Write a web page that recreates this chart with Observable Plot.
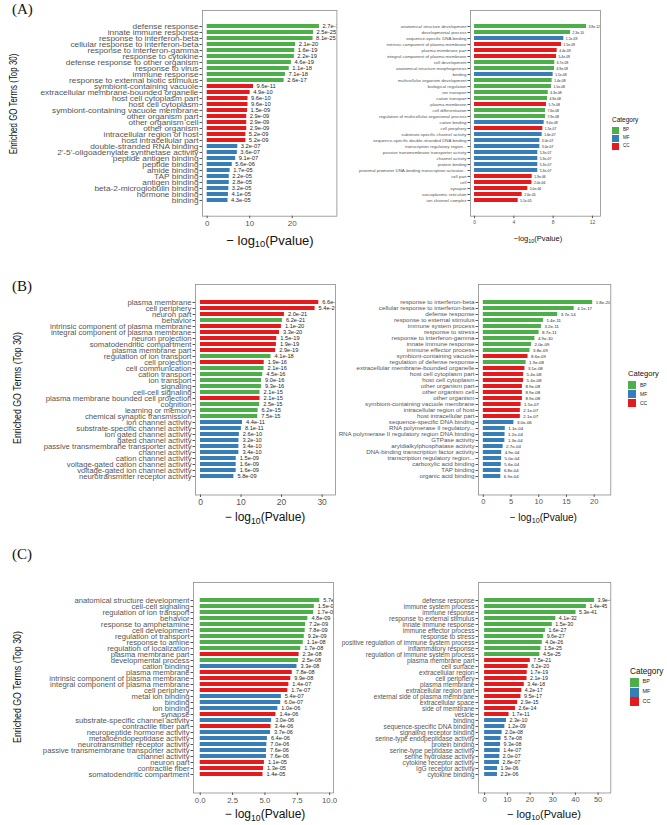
<!DOCTYPE html>
<html><head><meta charset="utf-8">
<script src="https://cdn.jsdelivr.net/npm/d3@7"></script>
<script src="https://cdn.jsdelivr.net/npm/@observablehq/plot@0.6"></script>
<style>
body{margin:0;background:#fff;}
#root{position:relative;width:667px;height:825px;overflow:hidden;font-family:"Liberation Sans",Arial,sans-serif;background:#fff;}
.abs{position:absolute;white-space:nowrap;line-height:1;}
</style></head><body><div id="root"></div>
<script>
// ---------------- DATA ----------------
const categories = ["BP", "MF", "CC"];
const categoryColors = ["#4DAF4A", "#377EB8", "#E41A1C"];

const aLeftTerms = ["defense response","innate immune response","response to interferon-beta","cellular response to interferon-beta","response to interferon-gamma","response to cytokine","defense response to other organism","response to virus","immune response","response to external biotic stimulus","symbiont-containing vacuole","extracellular membrane-bounded organelle","host cell cytoplasm part","host cell cytoplasm","symbiont-containing vacuole membrane","other organism part","other organism cell","other organism","intracellular region of host","host intracellular part","double-stranded RNA binding","2'-5'-oligoadenylate synthetase activity","peptide antigen binding","peptide binding","amide binding","TAP binding","antigen binding","beta-2-microglobulin binding","hormone binding","binding"];
const aLeftCats = ["BP","BP","BP","BP","BP","BP","BP","BP","BP","BP","CC","CC","CC","CC","CC","CC","CC","CC","CC","CC","MF","MF","MF","MF","MF","MF","MF","MF","MF","MF"];
const aLeftVals = [26.4,25.0,24.9,20.8,20.6,20.5,19.8,19.3,18.4,18.1,10.9,10.1,9.6,9.6,9.5,9.3,9.3,9.3,9.1,9.1,7.2,7.1,6.7,5.9,5.4,5.2,5.2,5.1,5.0,4.9];
const aLeftP = ["2.7e-27","2.5e-25","8.1e-25","2.1e-20","1.6e-19","2.2e-19","4.6e-19","1.1e-18","7.1e-18","2.6e-17","9.6e-11","4.9e-10","9.6e-10","9.6e-10","1.5e-09","2.9e-09","2.9e-09","2.9e-09","5.2e-09","5.2e-09","3.2e-07","3.6e-07","9.1e-07","5.6e-06","1.7e-05","2.2e-05","2.8e-05","3.2e-05","4.1e-05","4.3e-05"];

const aRightTerms = ["anatomical structure development","developmental process","sequence-specific DNA binding","intrinsic component of plasma membrane","plasma membrane part","integral component of plasma membrane","cell development","anatomical structure morphogenesis","binding","multicellular organism development","biological regulation","ion transport","cation transport","plasma membrane","cell differentiation","regulation of multicellular organismal process","cation binding","cell periphery","substrate-specific channel activity","sequence-specific double-stranded DNA binding","transcription regulatory region...","passive transmembrane transporter activity","channel activity","protein binding","proximal promoter DNA-binding transcription activator...","cell part","cell","synapse","sarcoplasmic reticulum","ion channel complex"];
const aRightCats = ["BP","BP","MF","CC","CC","CC","BP","BP","MF","BP","BP","BP","BP","CC","BP","BP","MF","CC","MF","MF","MF","MF","MF","MF","MF","CC","CC","CC","CC","CC"];
const aRightVals = [11.4,9.77,9.09,8.85,8.41,8.34,8.17,8.14,8.0,7.9,7.83,7.5,7.43,7.32,7.22,7.22,7.09,6.95,6.88,6.65,6.65,6.44,6.44,6.44,6.44,5.87,5.84,5.42,4.85,4.44];
const aRightP = ["3.8e-12","2.3e-10","1.1e-09","1.5e-09","4.4e-09","5.4e-09","6.7e-09","6.9e-09","1.1e-08","1.4e-08","1.5e-08","4.3e-08","4.9e-08","5.7e-08","7.6e-08","7.9e-08","9.0e-08","1.5e-07","1.6e-07","3.0e-07","3.0e-07","5.3e-07","5.3e-07","5.3e-07","5.3e-07","1.9e-06","2.0e-06","5.0e-06","2.0e-05","5.1e-05"];

const bLeftTerms = ["plasma membrane","cell periphery","neuron part","behavior","intrinsic component of plasma membrane","integral component of plasma membrane","neuron projection","somatodendritic compartment","plasma membrane part","regulation of ion transport","cell projection","cell communication","cation transport","ion transport","signaling","cell-cell signaling","plasma membrane bounded cell projection","cognition","learning or memory","chemical synaptic transmission","ion channel activity","substrate-specific channel activity","ion gated channel activity","gated channel activity","passive transmembrane transporter activity","channel activity","cation channel activity","voltage-gated cation channel activity","voltage-gated ion channel activity","neurotransmitter receptor activity"];
const bLeftCats = ["CC","CC","CC","BP","CC","CC","CC","CC","CC","BP","CC","BP","BP","BP","BP","BP","CC","BP","BP","BP","MF","MF","MF","MF","MF","MF","MF","MF","MF","MF"];
const bLeftVals = [29.18,28.27,20.70,20.21,19.96,19.48,18.82,18.72,18.54,17.39,15.72,15.68,15.35,15.05,15.03,14.68,14.68,14.60,14.21,14.12,10.36,10.09,9.59,9.49,9.47,9.47,8.82,8.80,8.80,8.24];
const bLeftP = ["6.6e-30","5.4e-29","2.0e-21","6.2e-21","1.1e-20","3.3e-20","1.5e-19","1.9e-19","2.9e-19","4.1e-18","1.9e-16","2.1e-16","4.5e-16","9.0e-16","9.3e-16","2.1e-15","2.1e-15","2.5e-15","6.2e-15","7.5e-15","4.4e-11","8.1e-11","2.6e-10","3.2e-10","3.4e-10","3.4e-10","1.5e-09","1.6e-09","1.6e-09","5.8e-09"];

const bRightTerms = ["response to interferon-beta","cellular response to interferon-beta","defense response","response to external stimulus","immune system process","response to stress","response to interferon-gamma","innate immune response","immune effector process","symbiont-containing vacuole","regulation of defense response","extracellular membrane-bounded organelle","host cell cytoplasm part","host cell cytoplasm","other organism part","other organism cell","other organism","symbiont-containing vacuole membrane","intracellular region of host","host intracellular part","sequence-specific DNA binding","RNA polymerase II regulatory...","RNA polymerase II regulatory region DNA binding","GTPase activity","aryldialkylphosphatase activity","DNA-binding transcription factor activity","transcription regulatory region...","carboxylic acid binding","TAP binding","organic acid binding"];
const bRightCats = ["BP","BP","BP","BP","BP","BP","BP","BP","BP","CC","BP","CC","CC","CC","CC","CC","CC","CC","CC","CC","MF","MF","MF","MF","MF","MF","MF","MF","MF","MF"];
const bRightVals = [19.74,16.39,13.43,10.85,10.49,10.06,9.31,8.70,8.42,8.07,7.72,7.51,7.27,7.27,7.05,7.05,7.05,6.82,6.68,6.68,5.52,3.96,3.92,3.89,3.57,3.31,3.30,3.25,3.17,3.16];
const bRightP = ["1.8e-20","4.1e-17","3.7e-14","1.4e-11","3.2e-11","8.7e-11","4.9e-10","2.0e-09","3.8e-09","8.6e-09","1.9e-08","3.1e-08","5.4e-08","5.4e-08","8.9e-08","8.9e-08","8.9e-08","1.5e-07","2.1e-07","2.1e-07","3.0e-06","1.1e-04","1.2e-04","1.3e-04","2.7e-04","4.9e-04","5.0e-04","5.6e-04","6.8e-04","6.9e-04"];

const cLeftTerms = ["anatomical structure development","cell-cell signaling","regulation of ion transport","behavior","response to amphetamine","cell development","regulation of transport","response to amine","regulation of localization","plasma membrane part","developmental process","cation binding","plasma membrane","intrinsic component of plasma membrane","integral component of plasma membrane","cell periphery","metal ion binding","binding","ion binding","synapse","substrate-specific channel activity","contractile fiber part","neuropeptide hormone activity","metalloendopeptidase activity","neurotransmitter receptor activity","passive transmembrane transporter activity","channel activity","neuron part","contractile fiber","somatodendritic compartment"];
const cLeftCats = ["BP","BP","BP","BP","BP","BP","BP","BP","BP","CC","BP","MF","CC","CC","CC","CC","MF","MF","MF","CC","MF","CC","MF","MF","MF","MF","MF","CC","CC","CC"];
const cLeftVals = [9.24,8.82,8.77,8.32,8.14,8.11,8.04,7.96,7.77,7.64,7.60,7.48,7.11,7.00,6.85,6.77,6.27,6.22,6.00,5.85,5.52,5.47,5.43,5.19,5.15,5.12,5.12,4.96,4.89,4.85];
const cLeftP = ["5.7e-10","1.5e-09","1.7e-09","4.8e-09","7.2e-09","7.8e-09","9.2e-09","1.1e-08","1.7e-08","2.3e-08","2.5e-08","3.3e-08","7.8e-08","9.9e-08","1.4e-07","1.7e-07","5.4e-07","6.0e-07","1.0e-06","1.4e-06","3.0e-06","3.4e-06","3.7e-06","6.4e-06","7.0e-06","7.6e-06","7.6e-06","1.1e-05","1.3e-05","1.4e-05"];

const cRightTerms = ["defense response","immune system process","immune response","response to external stimulus","innate immune response","immune effector process","response to stress","positive regulation of immune system process","inflammatory response","regulation of immune system process","plasma membrane part","cell surface","extracellular region","cell periphery","plasma membrane","extracellular region part","external side of plasma membrane","extracellular space","side of membrane","vesicle","binding","sequence-specific DNA binding","signaling receptor binding","serine-type endopeptidase activity","protein binding","serine-type peptidase activity","serine hydrolase activity","cytokine receptor activity","IgG receptor activity","cytokine binding"];
const cRightCats = ["BP","BP","BP","BP","BP","BP","BP","BP","BP","BP","CC","CC","CC","CC","CC","CC","CC","CC","CC","CC","MF","MF","MF","MF","MF","MF","MF","MF","MF","MF"];
const cRightVals = [48.41,44.85,40.28,31.39,29.82,26.80,26.02,25.40,24.82,24.35,20.12,19.21,18.77,18.68,17.47,16.38,16.02,14.54,13.59,10.77,9.64,8.92,7.70,7.24,7.03,6.85,6.70,6.55,5.72,5.66];
const cRightP = ["3.9e-49","1.4e-45","5.3e-41","4.1e-32","1.5e-30","1.6e-27","9.6e-27","4.0e-26","1.5e-25","4.5e-25","7.5e-21","6.2e-20","1.7e-19","2.1e-19","3.4e-18","4.2e-17","9.5e-17","2.9e-15","2.6e-14","1.7e-11","2.3e-10","1.2e-09","2.0e-08","5.7e-08","9.3e-08","1.4e-07","2.0e-07","2.8e-07","1.9e-06","2.2e-06"];

const aLeftTicks = [0, 10, 20];
const aRightTicks = [0, 4, 8, 12];
const bLeftTicks = [0, 10, 20, 30];
const bRightTicks = [0, 5, 10, 15, 20];
const cLeftTicks = [0, 2.5, 5, 7.5, 10];
const cRightTicks = [0, 10, 20, 30, 40, 50];

// ---------------- DRAWING ----------------
const root = document.getElementById("root");
const FONT = "'Liberation Sans', Arial, Helvetica, sans-serif";

function addPanel(p) {
  const [fl, fr, ft, fb] = p.frame;
  const ml = p.ml, mr = 4, mt = 4, mb = 18;
  const L = fl - ml, T = ft - mt;
  const W = fr + mr - L, H = fb + mb - T;
  const data = p.terms.map((t, i) => ({term: t, cat: p.cats[i], v: p.vals[i], lab: p.labels[i]}));
  const chart = Plot.plot({
    width: W, height: H,
    marginLeft: ml, marginRight: mr, marginTop: mt, marginBottom: mb,
    style: {background: "transparent", fontFamily: FONT, overflow: "visible"},
    x: {domain: p.domain},
    y: {type: "band", domain: p.terms, paddingInner: 0.35, paddingOuter: 0.275},
    color: {domain: categories, range: categoryColors},
    marks: [
      Plot.barX(data, {x: "v", y: "term", fill: "cat", insetTop: 0, insetBottom: 0}),
      Plot.text(data, {x: "v", y: "term", text: "lab", textAnchor: "start", dx: p.dx, fontSize: p.valFont, fill: "#262626", clip: true}),
      Plot.frame({stroke: "#8c8c8c", strokeWidth: 0.8}),
      Plot.axisY({tickSize: 2.5, tickPadding: 1.5, fontSize: p.yFont, color: "#555", label: null}),
      Plot.axisX(p.ticks, {tickSize: 2.5, tickPadding: p.tickPad, fontSize: p.tickFont, color: "#555", label: null, tickFormat: p.fmt})
    ]
  });
  chart.style.position = "absolute";
  chart.style.left = L + "px";
  chart.style.top = T + "px";
  root.append(chart);
  // widen the y labels horizontally (the reference glyphs are wide and short)
  if (p.stretch && p.stretch !== 1) {
    chart.querySelectorAll('g[aria-label="y-axis tick label"] text').forEach(t => {
      const len = t.getComputedTextLength();
      t.setAttribute("textLength", (len * p.stretch).toFixed(2));
      t.setAttribute("lengthAdjust", "spacingAndGlyphs");
    });
  }
}

function addText(html, cx, cy, style) {
  const d = document.createElement("div");
  d.className = "abs";
  d.innerHTML = html;
  d.style.left = cx + "px";
  d.style.top = cy + "px";
  d.style.transform = style.transform || "translate(-50%,-50%)";
  Object.assign(d.style, style.css || {});
  root.append(d);
  return d;
}

const fmtInt = d => String(d);
addPanel({terms: aLeftTerms, cats: aLeftCats, vals: aLeftVals, labels: aLeftP, frame: [202.3, 336.7, 10, 215.7], domain: [-1.1, 30.5], ticks: aLeftTicks, fmt: fmtInt, ml: 200, yFont: 6.4, stretch: 1.3, valFont: 5.8, tickFont: 8, tickPad: 1.5, dx: 3});
addPanel({terms: aRightTerms, cats: aRightCats, vals: aRightVals, labels: aRightP, frame: [470, 600, 10, 215.7], domain: [-0.41, 12.82], ticks: aRightTicks, fmt: fmtInt, ml: 115, yFont: 4.4, stretch: 1, valFont: 3.4, tickFont: 5, tickPad: 1.5, dx: 2});
addPanel({terms: bLeftTerms, cats: bLeftCats, vals: bLeftVals, labels: bLeftP, frame: [195, 335, 283.5, 494], domain: [-1.23, 33.3], ticks: bLeftTicks, fmt: fmtInt, ml: 193, yFont: 6.5, stretch: 1.19, valFont: 5.7, tickFont: 8.5, tickPad: 1.5, dx: 3.5});
addPanel({terms: bRightTerms, cats: bRightCats, vals: bRightVals, labels: bRightP, frame: [477.7, 610, 283.5, 494], domain: [-0.87, 23.0], ticks: bRightTicks, fmt: fmtInt, ml: 160, yFont: 6.2, stretch: 1, valFont: 4.4, tickFont: 7.5, tickPad: 1.5, dx: 3});
addPanel({terms: cLeftTerms, cats: cLeftCats, vals: cLeftVals, labels: cLeftP, frame: [193.3, 333.3, 582, 792.5], domain: [-0.52, 10.3], ticks: cLeftTicks, fmt: d => d.toFixed(1), ml: 190, yFont: 6.5, stretch: 1.18, valFont: 5.6, tickFont: 7.8, tickPad: 1.5, dx: 3.5});
addPanel({terms: cRightTerms, cats: cRightCats, vals: cRightVals, labels: cRightP, frame: [477.7, 610, 582, 792.5], domain: [-2.7, 55.6], ticks: cRightTicks, fmt: fmtInt, ml: 160, yFont: 6.4, stretch: 1.03, valFont: 5.3, tickFont: 7.5, tickPad: 1.5, dx: 3});

// panel letters
const serif = {fontFamily: "'Liberation Serif','Times New Roman',serif", fontSize: "15px", color: "#111"};
addText("(A)", 12, 2, {transform: "none", css: serif});
addText("(B)", 12, 279, {transform: "none", css: serif});
addText("(C)", 12, 547, {transform: "none", css: serif});

// y titles
const yTitle = "Enriched GO Terms (Top 30)";
const rot = s => ({transform: "translate(-50%,-50%) rotate(-90deg) scaleX(" + s + ")", css: {fontSize: "11px", color: "#111"}});
addText(yTitle, 12.5, 104, rot(0.72));
addText(yTitle, 17, 388, rot(0.8));
addText(yTitle, 17, 687, rot(0.8));

// x titles
const xt = "&minus; log<sub style='font-size:0.72em;vertical-align:-0.3em;line-height:0'>10</sub>(Pvalue)";
addText(xt, 270, 240, {css: {fontSize: "13px", color: "#111"}});
addText(xt.replace("&minus; ", "&minus;"), 538, 239, {css: {fontSize: "7.5px", color: "#111"}});
addText(xt, 265, 516.7, {css: {fontSize: "12px", color: "#111"}});
addText(xt, 543.3, 518.3, {css: {fontSize: "10px", color: "#111"}});
addText(xt, 265, 814, {css: {fontSize: "12px", color: "#111"}});
addText(xt, 544, 814, {css: {fontSize: "11px", color: "#111"}});

// legends
function addLegend(x, yTitleC, rows, sq, titleFont, labFont) {
  addText("Category", x, yTitleC, {transform: "translate(0,-50%)", css: {fontSize: titleFont + "px", color: "#111"}});
  categories.forEach((c, i) => {
    const s = document.createElement("div");
    s.style.cssText = `position:absolute;left:${x}px;top:${rows[i] - sq / 2}px;width:${sq}px;height:${sq}px;background:${categoryColors[i]};`;
    root.append(s);
    addText(c, x + sq + 4, rows[i], {transform: "translate(0,-50%)", css: {fontSize: labFont + "px", color: "#222"}});
  });
}
addLegend(612, 120, [130, 138, 146], 7, 6.5, 4.5);
addLegend(628, 374, [385, 394.3, 403.3], 8, 7.6, 5);
addLegend(630, 671.7, [682.3, 692.3, 701.7], 8.5, 8.2, 5.5);
</script></body></html>
